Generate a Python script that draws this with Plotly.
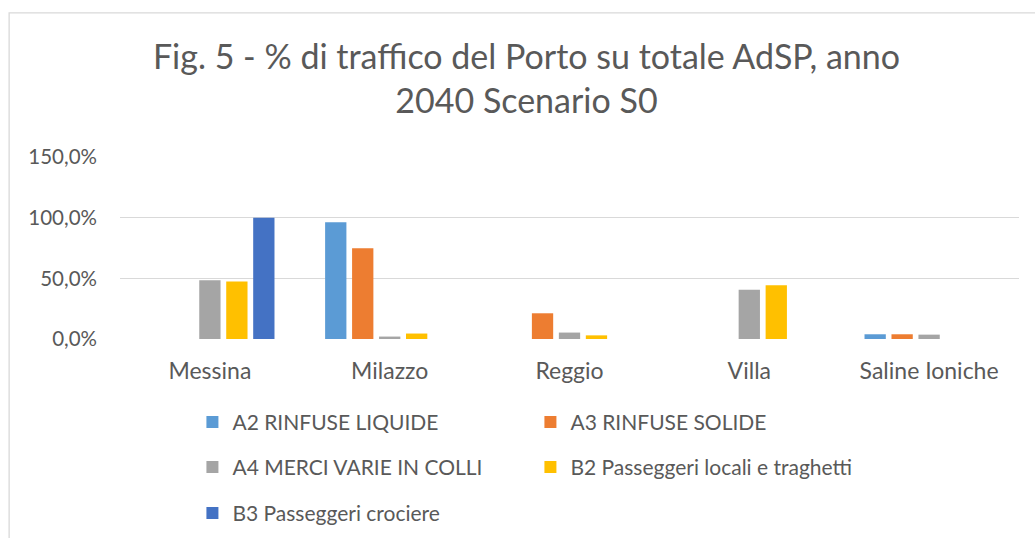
import plotly.graph_objects as go

categories = ["Messina", "Milazzo", "Reggio", "Villa", "Saline Ioniche"]
series_names = [
    "A2 RINFUSE LIQUIDE",
    "A3 RINFUSE SOLIDE",
    "A4 MERCI VARIE IN COLLI",
    "B2 Passeggeri locali e traghetti",
    "B3 Passeggeri crociere",
]
a2 = [None, 0.962, None, None, 0.039]
a3 = [None, 0.747, 0.212, None, 0.039]
a4 = [0.485, 0.020, 0.053, 0.405, 0.036]
b2 = [0.474, 0.045, 0.030, 0.444, None]
b3 = [1.000, None, None, None, None]
series_values = [a2, a3, a4, b2, b3]
colors = ["#5B9BD5", "#ED7D31", "#A5A5A5", "#FFC000", "#4472C4"]
legend_ids = ["legend", "legend", "legend2", "legend2", "legend3"]

y_tickvals = [0, 0.5, 1.0, 1.5]
y_ticktext = ["0,0%", "50,0%", "100,0%", "150,0%"]

FONT = "Lato"
TXT = "#595959"

fig = go.Figure()
for name, vals, col, lg in zip(series_names, series_values, colors, legend_ids):
    fig.add_trace(go.Bar(x=categories, y=vals, name=name, marker_color=col,
                         marker_line_width=0, legend=lg))

# plot area geometry
L, R, T, B = 119.5, 1019.5, 156.7, 338.7
W, H = 1035, 538
pw, ph = R - L, B - T

def px_x(x):
    return (x - L) / pw

def px_y(y):
    return (B - y) / ph

leg_common = dict(orientation="h", xanchor="left", yanchor="middle",
                  font=dict(family=FONT, size=21, color=TXT),
                  entrywidth=293, entrywidthmode="pixels",
                  bgcolor="rgba(0,0,0,0)", itemclick=False, itemdoubleclick=False)

fig.update_layout(
    width=W, height=H,
    margin=dict(l=L, r=W - R, t=T, b=H - B, pad=0, autoexpand=False),
    paper_bgcolor="white", plot_bgcolor="white",
    barmode="group", bargap=0.25, bargroupgap=0.21,
    title=dict(text="Fig. 5 - % di traffico del Porto su totale AdSP, anno<br>2040 Scenario S0",
               x=526.5 / W, xanchor="center", xref="container", y=1 - 68.5 / H, yanchor="middle", yref="container",
               font=dict(family=FONT, size=34, color=TXT)),
    font=dict(family=FONT, color=TXT),
    xaxis=dict(type="category", showgrid=False, showline=False, zeroline=False,
               tickfont=dict(family=FONT, size=23, color=TXT), ticks="", ticklabelstandoff=16),
    yaxis=dict(range=[0, 1.5], tickvals=y_tickvals, ticktext=y_ticktext,
               showgrid=True, gridcolor="#D9D9D9", gridwidth=1.3, zeroline=False, showline=False,
               tickfont=dict(family=FONT, size=20.5, color=TXT), ticks="", ticklabelstandoff=22),
    legend=dict(x=px_x(192), y=px_y(422), **leg_common),
    legend2=dict(x=px_x(192), y=px_y(467), **leg_common),
    legend3=dict(x=px_x(192), y=px_y(513), **leg_common),
    shapes=[dict(type="rect", xref="paper", yref="paper",
                 x0=px_x(8.5), x1=px_x(1045), y0=px_y(560), y1=px_y(12.5),
                 line=dict(color="#D9D9D9", width=1.3), fillcolor="rgba(0,0,0,0)", layer="below")],
)

fig.write_html("out.html", config={"displayModeBar": False},
               post_script="document.body.style.margin='0';")
